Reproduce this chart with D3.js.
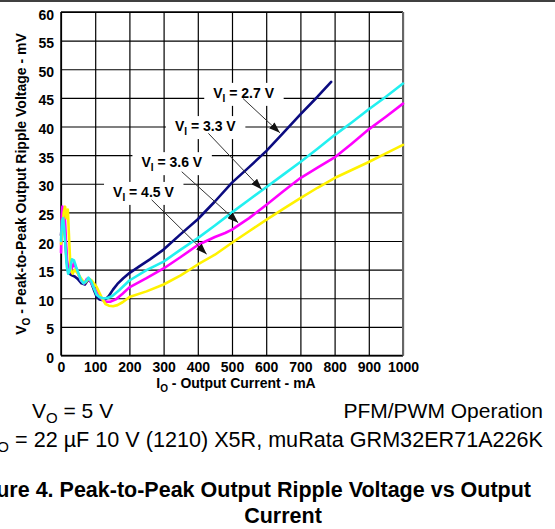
<!DOCTYPE html>
<html><head><meta charset="utf-8">
<script src="https://cdn.jsdelivr.net/npm/d3@7"></script>
<style>
body{margin:0;background:#fff;}
svg{display:block;font-family:"Liberation Sans",Arial,Helvetica,sans-serif;}
</style></head><body>
<svg id="chart" width="555" height="529"></svg>
<script>
// ---------- data ----------
const xTicks = [0,100,200,300,400,500,600,700,800,900,1000];
const yTicks = [0,5,10,15,20,25,30,35,40,45,50,55,60];

// VI = 2.7 V
const current27 = [0,4,8,12,16,20,25,32,40,50,60,70,80,88,96,104,112,120,130,140,152,165,182,200,230,260,300,350,400,450,500,550,600,650,700,750,790];
const ripple27  = [21,24,23.5,21,17,15,14.3,14,13.8,13.3,12.6,12.4,13.3,12.8,11.5,10.3,9.8,9.7,9.8,10.4,11.5,12.5,13.5,14.4,15.6,16.8,18.5,21.2,23.8,26.9,30.2,32.9,35.7,38.9,42.1,45.2,47.8];
// VI = 3.3 V
const current33 = [0,3,6,9,13,17,21,26,32,38,44,50,58,66,74,80,88,96,104,112,122,134,150,170,200,250,300,350,400,450,500,550,600,650,700,750,800,850,900,950,1000];
const ripple33  = [20,23.5,24,22.5,19,15.5,14.3,15,16.8,16.6,15.5,14.5,13.2,12.6,13,13.6,13,11.8,10.6,10.2,10,10,10.4,11.4,13.1,14.9,16.4,18.5,20.5,22.7,25,27.2,29.4,31.6,33.8,36.1,38.5,40.7,43,45.2,47.5];
// VI = 3.6 V
const current36 = [0,2,4,7,10,13,16,20,25,32,38,44,52,60,68,76,82,90,100,110,120,130,145,160,180,200,250,300,350,400,450,480,500,550,600,650,700,750,800,850,900,950,1000];
const ripple36  = [18,24,26,23,25.5,22,18,14.8,14.5,15.3,16.2,15.3,14,13,12.6,13.4,13.4,12.5,11.5,10.5,9.8,9.4,9.4,9.8,10.8,11.9,13.5,15.2,17.2,19.3,20.7,21.4,22,24,26.3,28.7,31,32.8,34.6,37,39.5,41.7,44];
// VI = 4.5 V
const current45 = [0,4,8,12,16,20,24,28,34,40,48,56,64,72,80,88,96,104,112,120,130,140,152,165,180,200,250,300,350,400,450,500,550,600,650,700,750,800,850,900,950,1000];
const ripple45  = [19.5,22,25,26,24,25.5,20,15,14.3,15,14.4,13.7,13,12.8,13.4,13.2,12.6,12,11,10,9,8.7,8.6,8.8,9.3,10.2,11.2,12.4,14,15.9,17.6,19.7,21.7,23.7,25.6,27.5,29.3,31,32.4,33.8,35.3,36.8];

const seriesColors = ["#0b0b80","#ff00ff","#fff200","#22f0f0"];

// annotations (data units)
const labelInputs = ["2.7","3.3","3.6","4.5"];
const labelX = [534,422,324,241];
const labelY = [45.0,39.2,32.9,27.7];
const arrowFromX = [532,431,353,265];
const arrowFromY = [44.9,38.8,32.1,27.2];
const arrowToX = [640,587,518,426];
const arrowToY = [38.9,29.0,23.2,17.7];

// ---------- chart ----------
const FONT = '"Liberation Sans",Arial,Helvetica,sans-serif';
const svg = d3.select("#chart");
const x = d3.scaleLinear().domain([0,1000]).range([61,403]);
const y = d3.scaleLinear().domain([0,60]).range([355.5,12]);

svg.append("line").attr("x1",0).attr("x2",555).attr("y1",1).attr("y2",1)
  .attr("stroke","#000").attr("stroke-width",1.5);

const gx = svg.append("g").attr("transform",`translate(0,${y(0)})`)
  .call(d3.axisBottom(x).tickValues(xTicks).tickSize(-(y(0)-y(60))).tickPadding(6.5).tickFormat(d3.format("d")));
gx.attr("font-family",FONT).attr("font-size",14);
gx.select(".domain").remove();
gx.selectAll(".tick line").attr("stroke","#000").attr("stroke-width",1.2);
gx.selectAll(".tick text").attr("font-weight","bold").attr("fill","#000");

const gy = svg.append("g").attr("transform",`translate(${x(0)},0)`)
  .call(d3.axisLeft(y).tickValues(yTicks).tickSize(-(x(1000)-x(0))).tickPadding(7).tickFormat(d3.format("d")));
gy.attr("font-family",FONT).attr("font-size",14);
gy.select(".domain").remove();
gy.selectAll(".tick line").attr("stroke","#000").attr("stroke-width",1.2);
gy.selectAll(".tick text").attr("font-weight","bold").attr("fill","#000").attr("dy","0.5em");

// frame
svg.append("line").attr("x1",x(0)).attr("x2",x(0)).attr("y1",y(0)).attr("y2",y(60)).attr("stroke","#000").attr("stroke-width",1.5);
svg.append("line").attr("x1",x(0)).attr("x2",x(1000)).attr("y1",y(0)).attr("y2",y(0)).attr("stroke","#000").attr("stroke-width",1.5);
svg.append("line").attr("x1",x(0)).attr("x2",x(1000)).attr("y1",y(60)).attr("y2",y(60)).attr("stroke","#000").attr("stroke-width",1.5);
svg.append("line").attr("x1",x(1000)).attr("x2",x(1000)).attr("y1",y(0)).attr("y2",y(60)).attr("stroke","#666").attr("stroke-width",2);

// label boxes + text
const labG = svg.append("g").attr("font-family",FONT).attr("font-size",14).attr("font-weight","bold");
labelInputs.forEach((v,i)=>{
  const g = labG.append("g");
  const t = g.append("text").attr("x",x(labelX[i])).attr("y",y(labelY[i])).attr("text-anchor","middle").attr("fill","#000");
  t.append("tspan").text("V");
  t.append("tspan").attr("font-size",10).attr("dy",4).text("I");
  t.append("tspan").attr("dy",-4).text(" = " + v + " V");
  const b = t.node().getBBox();
  g.insert("rect","text").attr("x",b.x-9).attr("y",b.y-2).attr("width",b.width+18).attr("height",b.height+4).attr("fill","#fff");
});

// series
const series = [
  current27.map((c,i)=>[c,ripple27[i]]),
  current36.map((c,i)=>[c,ripple36[i]]),
  current45.map((c,i)=>[c,ripple45[i]]),
  current33.map((c,i)=>[c,ripple33[i]])
];
const line = d3.line().x(d=>x(d[0])).y(d=>y(d[1]));
svg.append("g").selectAll("path").data(series).join("path")
  .attr("d",line).attr("fill","none")
  .attr("stroke",(d,i)=>seriesColors[i]).attr("stroke-width",2.6)
  .attr("stroke-linejoin","round").attr("stroke-linecap","round");

// arrows
svg.append("defs").append("marker").attr("id","ah").attr("markerUnits","userSpaceOnUse")
  .attr("viewBox","0 0 11 8").attr("refX",11).attr("refY",4).attr("markerWidth",11).attr("markerHeight",8).attr("orient","auto")
  .append("path").attr("d","M0,0 L11,4 L0,8 Z").attr("fill","#111");
svg.append("g").selectAll("line").data(labelInputs).join("line")
  .attr("x1",(d,i)=>x(arrowFromX[i])).attr("y1",(d,i)=>y(arrowFromY[i]))
  .attr("x2",(d,i)=>x(arrowToX[i])).attr("y2",(d,i)=>y(arrowToY[i]))
  .attr("stroke","#333").attr("stroke-width",1).attr("marker-end","url(#ah)");

// axis titles
const xt = svg.append("text").attr("x",236).attr("y",388).attr("text-anchor","middle")
  .attr("font-family",FONT).attr("font-size",14).attr("font-weight","bold");
xt.append("tspan").text("I");
xt.append("tspan").attr("font-size",10).attr("dy",4).text("O");
xt.append("tspan").attr("dy",-4).text(" - Output Current - mA");

const yt = svg.append("text").attr("transform","translate(26,184) rotate(-90)").attr("text-anchor","middle")
  .attr("font-family",FONT).attr("font-size",14).attr("font-weight","bold");
yt.append("tspan").text("V");
yt.append("tspan").attr("font-size",10).attr("dy",4).text("O");
yt.append("tspan").attr("dy",-4).text(" - Peak-to-Peak Output Ripple Voltage - mV");

// notes and caption
const n1 = svg.append("text").attr("x",32).attr("y",418).attr("font-family",FONT).attr("font-size",21);
n1.append("tspan").text("V");
n1.append("tspan").attr("font-size",15).attr("dy",5).text("O");
n1.append("tspan").attr("dy",-5).text(" = 5 V");
svg.append("text").attr("x",543).attr("y",418).attr("text-anchor","end").attr("font-family",FONT).attr("font-size",21).text("PFM/PWM Operation");
const n2 = svg.append("text").attr("x",543).attr("y",447).attr("text-anchor","end").attr("font-family",FONT).attr("font-size",21.6);
n2.append("tspan").text("C");
n2.append("tspan").attr("font-size",15).attr("dy",5).text("O");
n2.append("tspan").attr("dy",-5).text(" = 22 µF 10 V (1210) X5R, muRata GRM32ER71A226K");
svg.append("text").attr("x",531).attr("y",497).attr("text-anchor","end").attr("font-family",FONT).attr("font-size",21.5).attr("font-weight","bold")
  .text("Figure 4. Peak-to-Peak Output Ripple Voltage vs Output");
svg.append("text").attr("x",283).attr("y",523).attr("text-anchor","middle").attr("font-family",FONT).attr("font-size",21.5).attr("font-weight","bold")
  .text("Current");
</script>
</body></html>
